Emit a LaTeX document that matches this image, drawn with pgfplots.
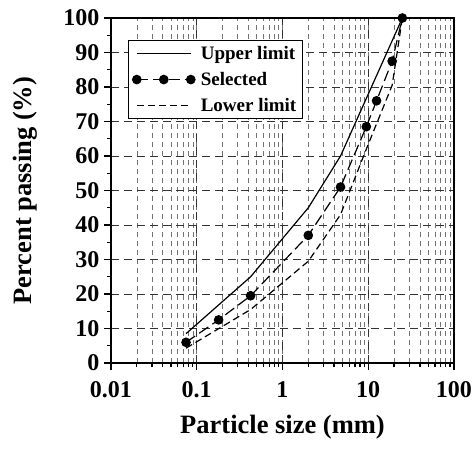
\documentclass[border=0pt]{standalone}
\usepackage{pgfplots}
\pgfplotsset{compat=1.18}
\usepackage{fontspec}
\setmainfont{Liberation Serif}
\begin{document}
\begin{tikzpicture}
\begin{axis}[
    xmode=log,
    scale only axis,
    width=343pt, height=345pt,
    xmin=0.01, xmax=100,
    ymin=0, ymax=100,
    xtick={0.01,0.1,1,10,100},
    xticklabels={0.01,0.1,1,10,100},
    ytick={0,10,...,100},
    minor y tick num=1,
    tick pos=left,
    axis line style={line width=2pt},
    tick align=outside,
    major tick length=7pt,
    minor tick length=4pt,
    every tick/.style={black, line width=1.3pt},
    xmajorgrids, xminorgrids, ymajorgrids,
    major grid style={black!80, line width=0.7pt, dash pattern=on 8pt off 5pt},
    minor grid style={black!55, line width=0.6pt, dash pattern=on 5pt off 4pt},
    /pgf/number format/assume math mode=true,
    tick label style={font=\bfseries\fontsize{24}{24}\selectfont},
    xticklabel style={yshift=-8pt},
    yticklabel style={xshift=-1pt},
    label style={font=\bfseries\fontsize{26.5}{26.5}\selectfont},
    xlabel={Particle size (mm)},
    ylabel={Percent passing (\%)},
    xlabel style={yshift=-10pt},
    ylabel style={yshift=19pt},
    legend style={at={(0.05,0.936)}, anchor=north west,
        font=\bfseries\fontsize{19}{19}\selectfont,
        draw=black, line width=0.9pt, fill=white,
        row sep=7pt, inner sep=4pt,
        nodes={inner sep=2pt}},
    legend cell align=left,
    legend image code/.code={
        \path[draw=none] (0pt,0pt) -- (66pt,0pt);
        \draw[#1] plot coordinates {(4pt,0pt) (31pt,0pt) (58pt,0pt)};
    },
]
\coordinate (bl) at (rel axis cs:0,0);

% Upper limit
\addplot[black, line width=1.2pt] coordinates {
    (0.075,8.5) (0.425,25) (2,45) (4.75,60) (25,100)
};
\addlegendentry{Upper limit}

% Selected
\addplot[black, line width=1.2pt, dash pattern=on 11pt off 5pt,
    mark=*, mark size=4.2pt, mark options={solid}] coordinates {
    (0.075,6) (0.18,12.5) (0.425,19.5) (2,37) (4.75,51)
    (9.5,68.5) (12.5,76) (19,87.5) (25,100)
};
\addlegendentry{Selected}

% Lower limit
\addplot[black, line width=1.2pt, dash pattern=on 7pt off 4pt] coordinates {
    (0.075,4.3) (0.425,15.5) (2,29.5) (4.75,43) (9.5,62) (19,80.5) (25,100)
};
\addlegendentry{Lower limit}
\end{axis}
\path (bl) ++(-111pt,-85pt) rectangle ++(476pt,448pt);
\end{tikzpicture}
\end{document}
